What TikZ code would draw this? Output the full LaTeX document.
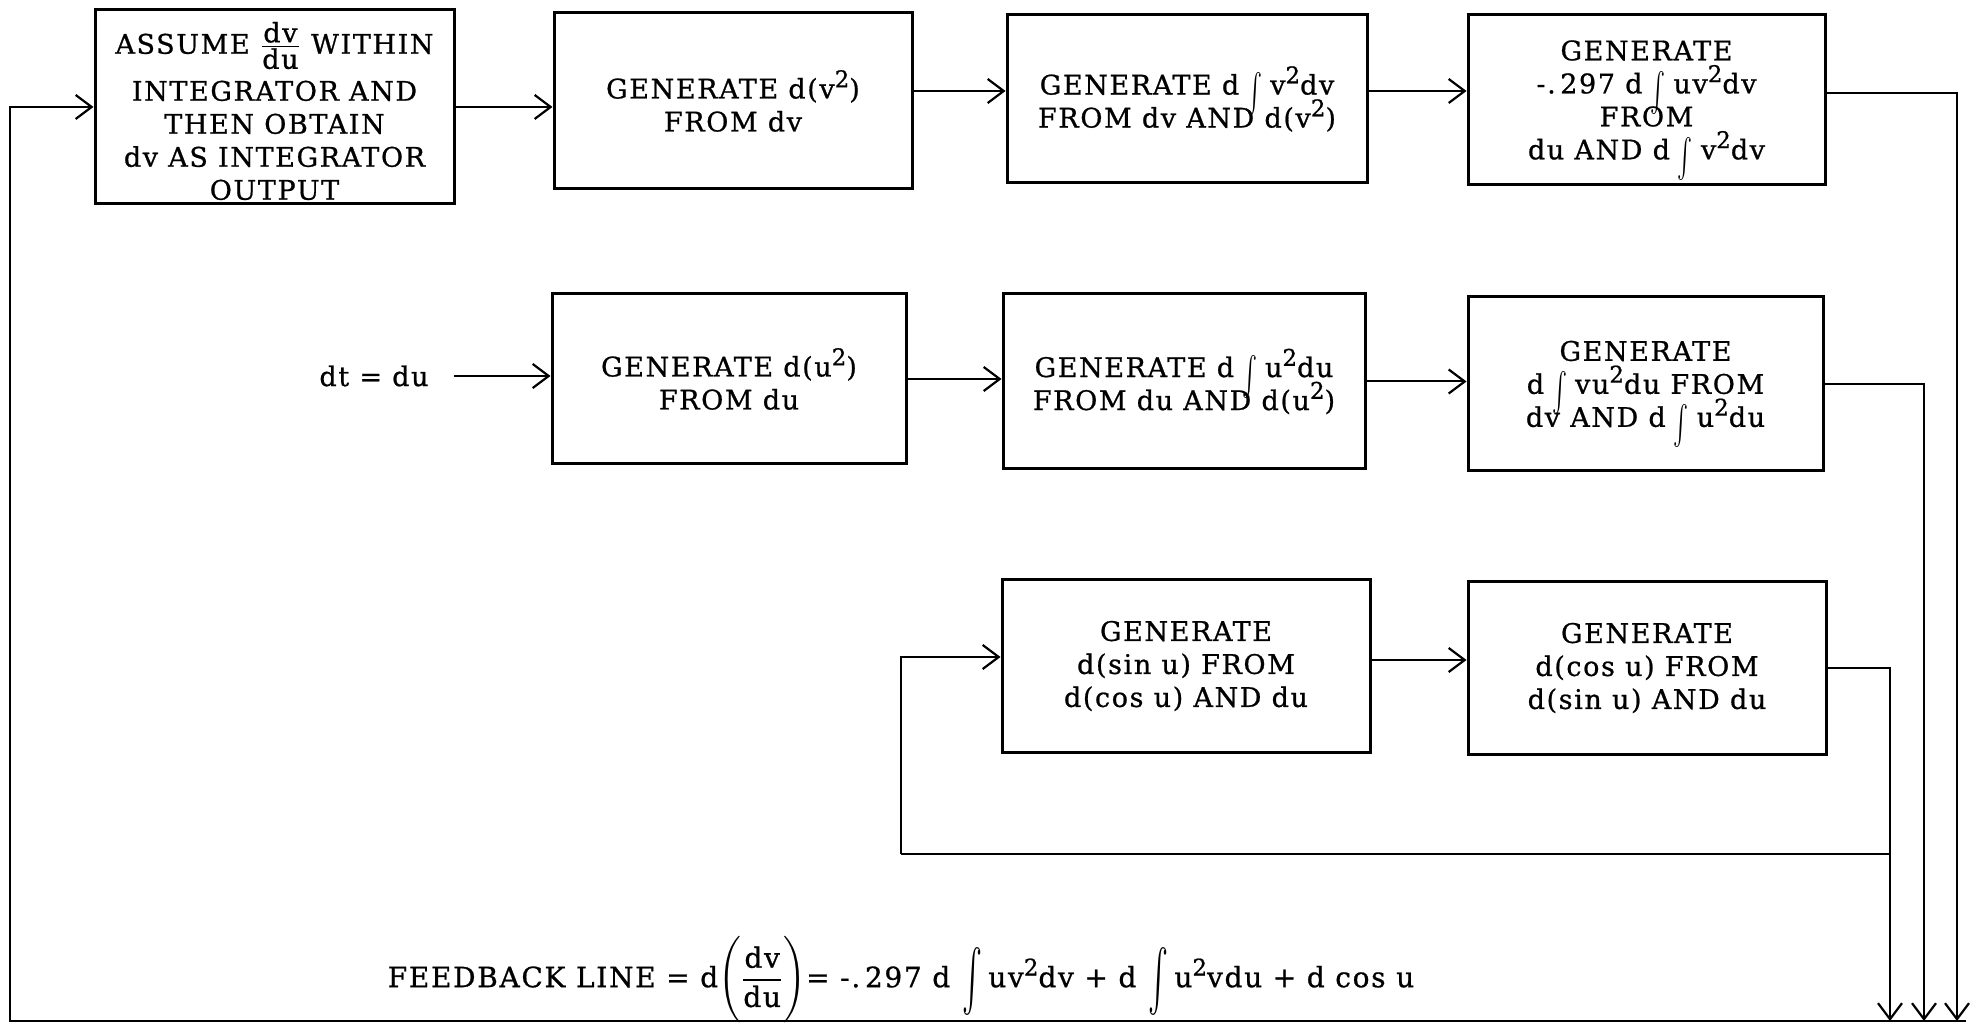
\documentclass[tikz,border=0pt]{standalone}
\usepackage{fontspec}
\usepackage{amsmath}
\usepackage{graphicx}
\setmainfont{DejaVu Serif}[LetterSpace=6, FakeBold=0.8]
\usetikzlibrary{arrows.meta}
\newcommand\integ{\hspace{4pt}\smash{\raisebox{-10.5pt}{\resizebox*{7.5pt}{21.5pt}{\raisebox{\depth}{$\int$}}}}\hspace{4pt}}
\newcommand\integB{\hspace{6pt}\smash{\raisebox{-14pt}{\resizebox*{10pt}{34pt}{\raisebox{\depth}{$\int$}}}}\hspace{3pt}}
\newcommand\sq{\raisebox{0.8ex}{\fontsize{11.5}{11.5}\selectfont 2}}
\tikzset{
  blk/.style={draw, line width=1.5pt, align=center, inner sep=0pt,
    font=\fontsize{13.5}{16.5}\selectfont},
  arr/.style={line width=1pt, -{Straight Barb[length=8pt,width=12pt,line width=1.1pt]}},
  ln/.style={line width=1pt},
  lbl/.style={font=\fontsize{13.5}{16.5}\selectfont, inner sep=0pt}
}
\begin{document}
\begin{tikzpicture}[x=0.5pt,y=-0.5pt]
\useasboundingbox (0,0) rectangle (1976,1031);
% row 1
\node[blk, minimum width=179.5pt, minimum height=97pt] (A) at (274.5,107) {};
\node[lbl, align=center] (At) at ([yshift=-2pt]A.center)
  {ASSUME $\smash[b]{\frac{\mbox{dv}}{\mbox{du}}}$ WITHIN\\[7pt]INTEGRATOR AND\\THEN OBTAIN\\dv AS INTEGRATOR\\OUTPUT};
\node[blk, minimum width=179pt, minimum height=88pt] (B) at (733,101)
  {GENERATE d(v\sq)\\FROM dv};
\node[blk, minimum width=180pt, minimum height=84pt] (C) at (1187,99)
  {GENERATE d\integ v\sq dv\\FROM dv AND d(v\sq)};
\node[blk, minimum width=178.5pt, minimum height=85pt] (D) at (1646.5,100)
  {GENERATE\\-.\,297 d\integ uv\sq dv\\FROM\\du AND d\integ v\sq dv};
% row 2
\node[lbl] (dt) at (374,376) {dt = du};
\node[blk, minimum width=177pt, minimum height=85pt] (E) at (729,379)
  {GENERATE d(u\sq)\\FROM du};
\node[blk, minimum width=181pt, minimum height=87.5pt] (F) at (1184,381.5)
  {GENERATE d\integ u\sq du\\FROM du AND d(u\sq)};
\node[blk, minimum width=177.5pt, minimum height=87pt] (G) at (1645.5,384)
  {GENERATE\\d\integ vu\sq du FROM\\dv AND d\integ u\sq du};
% row 3
\node[blk, minimum width=184pt, minimum height=86pt] (H) at (1186,666)
  {GENERATE\\d(sin u) FROM\\d(cos u) AND du};
\node[blk, minimum width=179pt, minimum height=86pt] (I) at (1647,668)
  {GENERATE\\d(cos u) FROM\\d(sin u) AND du};
% feedback text
\node[lbl, font=\fontsize{14}{16.5}\selectfont] (fb) at (901,980)
  {FEEDBACK LINE = d$\Biggl(\dfrac{\mbox{dv}}{\mbox{du}}\Biggr)$= -.\,297 d\integB uv\sq dv + d\integB u\sq vdu + d cos u};
% coordinates
\coordinate (fbR) at (1966,1021);
\coordinate (fbL) at (10,1021);
\coordinate (dD) at (1957,1021);
\coordinate (dG) at (1924,1021);
\coordinate (dI) at (1890,1021);
\coordinate (lpR) at (1890,854);
\coordinate (lpL) at (901,854);
\coordinate (dts) at (454,376);
\coordinate (bc) at ([yshift=5pt]B.east);
\coordinate (cd) at ([yshift=4pt]C.east);
\coordinate (de) at ([yshift=3.5pt]D.east);
\coordinate (hin) at ([yshift=4.5pt]H.west);
\coordinate (hi) at ([yshift=3pt]H.east);
% connectors
\draw[arr] (A.east) -- (A.east -| B.west);
\draw[arr] (bc) -- (bc -| C.west);
\draw[arr] (cd) -- (cd -| D.west);
\draw[arr] (de) -| (dD);
\draw[arr] (dts) -- (dts -| E.west);
\draw[arr] (E.east) -- (E.east -| F.west);
\draw[arr] (F.east) -- (F.east -| G.west);
\draw[arr] (G.east) -| (dG);
\draw[arr] (hi) -- (hi -| I.west);
\draw[arr] (I.east) -| (dI);
\draw[ln] (lpR) -- (lpL);
\draw[arr] (lpL) |- (hin);
\draw[arr, line width=1.3pt] (fbR) -- (fbL) |- (A.west);
\end{tikzpicture}
\end{document}
